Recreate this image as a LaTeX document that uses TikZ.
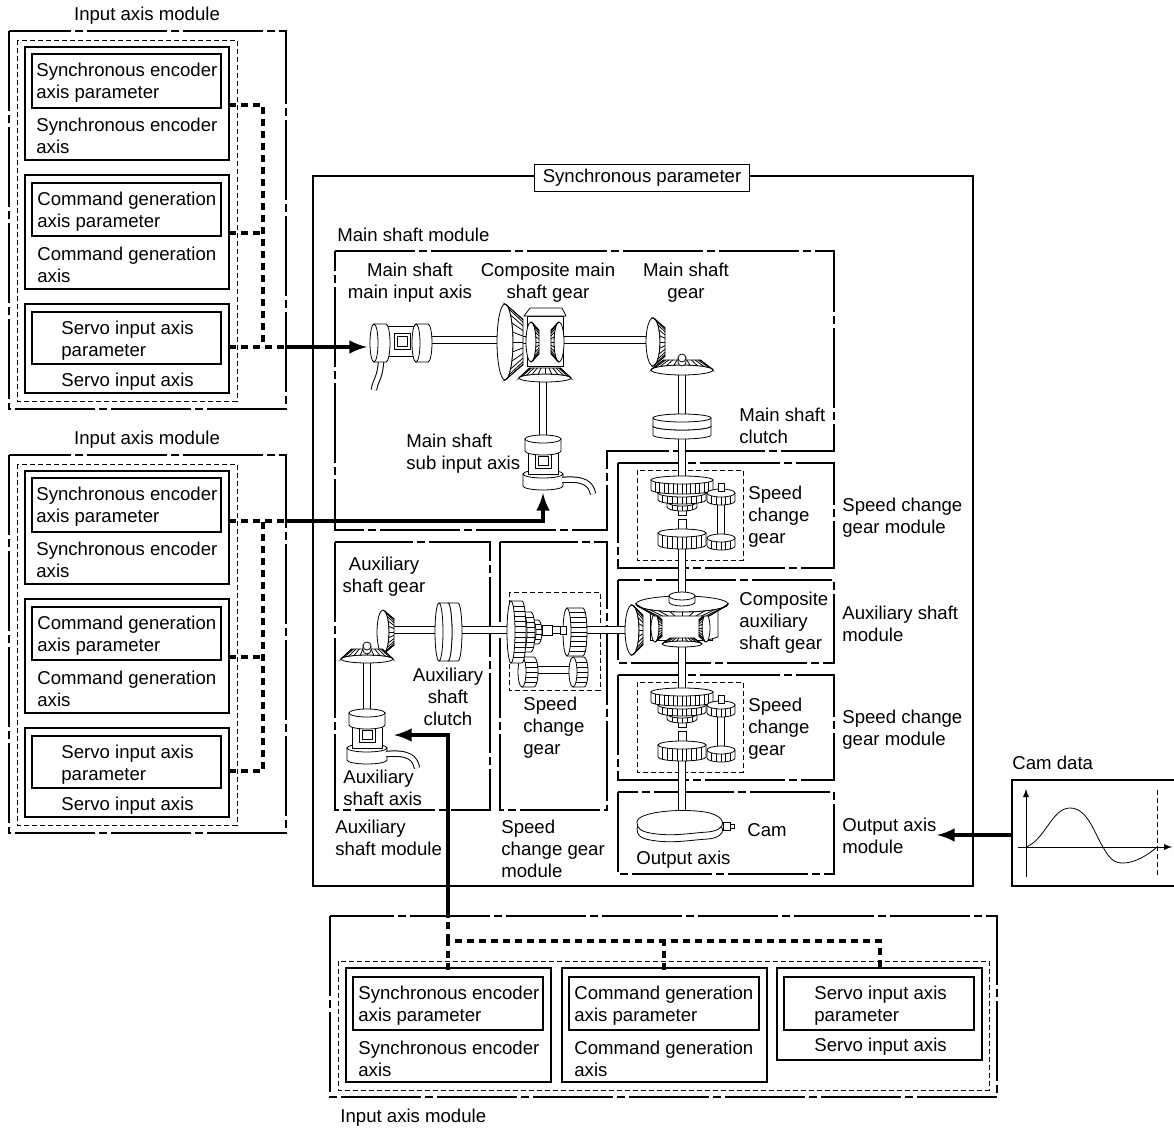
\documentclass[tikz,border=0pt]{standalone}
\usepackage{fontspec}
\setmainfont{Liberation Sans}
\begin{document}
\begin{tikzpicture}[x=0.5pt,y=-0.5pt,>=latex,
  every node/.style={font=\fontsize{9.3}{11}\selectfont,inner sep=0pt,yshift=-1pt},
  txt/.style={anchor=west,align=left},
  ctxt/.style={align=center},
  modline/.style={line width=0.65pt,dash pattern=on 40pt off 2pt on 4pt off 2pt},
  axbox/.style={line width=0.65pt},
  dashbox/.style={line width=0.4pt,dash pattern=on 2.5pt off 1.5pt},
  link/.style={line width=2pt,dash pattern=on 3.5pt off 2.5pt},
  feed/.style={line width=2pt,->},
  shaft/.style={line width=0.5pt,double=white,double distance=2.8pt},
  cable/.style={line width=0.5pt,double=white,double distance=2.2pt},
  pics/plate/.style args={#1/#2}{code={
    \draw[fill=white] (-#1,0) -- (-#1,#2) arc[start angle=180,end angle=0,x radius=#1,y radius=4] -- (#1,0) -- cycle;
    \draw[fill=white] (0,0) ellipse [x radius=#1,y radius=4];}},
  pics/spur/.style args={#1/#2/#3}{code={
    \draw[fill=white] (-#1,0) -- (-#1,#2) arc[start angle=180,end angle=0,x radius=#1,y radius=4] -- (#1,0) -- cycle;
    \draw[fill=white] (0,0) ellipse [x radius=#1,y radius=4];
    \foreach \t in {1,...,#3}
      \draw ({-#1+2*#1*\t/(#3+1)},{4*sqrt(1-(1-2*\t/(#3+1))^2)}) -- ++(0,#2);}},
  pics/bevel/.style args={#1/#2/#3}{code={
    \draw[fill=white] (0,0) ellipse [x radius=#2,y radius=#1];
    \draw[fill=white] (0,-#1) -- (#3,{-0.6*#1}) -- (#3,{0.6*#1}) -- (0,#1) arc[start angle=90,end angle=-90,x radius=#2,y radius=#1] -- cycle;
    \foreach \a in {-75,-60,...,75}
      \draw ({#2*cos(\a)},{#1*sin(\a)}) -- (#3,{0.6*#1*sin(\a)});}},
  pics/motorv/.style={code={
    \pic at (0,38) {plate=20/12};
    \draw[fill=white] (-15,14) rectangle (15,40);
    \draw (-8,19) rectangle (8,34) (-5,22) rectangle (5,31);
    \pic at (0,3) {plate=18/12};
    \draw[cable] (19,46) .. controls (42,44) and (48,50) .. (50,60);}}]
\useasboundingbox (0,0) rectangle (1174,1129);

% input axis modules on the left
\foreach \dy/\nm in {0/a,424/b}{
  \begin{scope}[shift={(0,\dy)}]
    \node (\nm-lbl) at (147,14) {Input axis module};
    \draw[modline] (9,31) rectangle (286,409);
    \draw[dashbox] (17,40) rectangle (237,401);
    \draw[axbox] (25,47) rectangle (229,160) (25,175) rectangle (229,289) (25,304) rectangle (229,393);
    \draw[axbox] (32,54) rectangle (221,108) (32,183) rectangle (221,236) (32,312) rectangle (221,364);
    \node[txt] (\nm-p1) at (36,81) {Synchronous encoder\\axis parameter};
    \node[txt] (\nm-x1) at (36,134) {Synchronous encoder\\axis};
    \node[txt] (\nm-p2) at (37,210) {Command generation\\axis parameter};
    \node[txt] (\nm-x2) at (37,263) {Command generation\\axis};
    \node[txt] (\nm-p3) at (61,339) {Servo input axis\\parameter};
    \node[txt] (\nm-x3) at (61,380) {Servo input axis};
    \coordinate (\nm-c2) at (229,231);
    \coordinate (\nm-c3) at (229,345);
  \end{scope}}
\coordinate (a-c1) at (229,103);
\coordinate (a-j) at (263,345);
\coordinate (a-k) at (287,345);
\coordinate (b-c1) at (229,519);
\coordinate (b-j) at (263,519);
\coordinate (b-k) at (287,519);

% synchronous parameter
\draw[axbox] (313,176) rectangle (973,886);
\node[draw,fill=white,inner xsep=4pt,inner ysep=2.5pt] (sp) at (642,176) {Synchronous parameter};

% module frames
\node[txt] (ms-lbl) at (337,233) {Main shaft module};
\draw[modline] (335,251) -- (834,251) -- (834,451) -- (607,451) -- (607,530) -- (335,530) -- cycle;
\draw[modline] (618,463) rectangle (834,568);
\draw[dashbox] (637,470) rectangle (743,560);
\draw[modline] (618,580) rectangle (834,663);
\draw[modline] (618,675) rectangle (834,780);
\draw[dashbox] (637,682) rectangle (743,772);
\draw[modline] (618,792) rectangle (834,874);
\draw[modline] (335,542) rectangle (490,810);
\draw[modline] (500,542) rectangle (607,810);
\draw[dashbox] (509,592) rectangle (600,690);

% shafts
\draw[shaft] (430,340) -- (650,340);
\draw[shaft] (543,370) -- (543,440);
\draw[shaft] (682,360) -- (682,480) (682,540) -- (682,600) (682,640) -- (682,690) (682,752) -- (682,818);
\draw[shaft] (390,630) -- (636,630);
\draw[shaft] (367,650) -- (367,712);

% main shaft main input axis
\draw[fill=white] (386,326) rectangle (418,356);
\draw (394,333) rectangle (410,349) (397,336) rectangle (407,346);
\pic[rotate=90] at (416,341) {plate=19/12};
\draw[cable] (381,358) .. controls (381,378) and (375,380) .. (374,390);
\pic[rotate=90] at (374,341) {plate=19/12};

% composite main shaft gear
\draw[fill=white] (527,316) rectangle (563,366);
\draw[fill=white] (524,316) -- (530,308) -- (562,308) -- (566,316) -- cycle;
\pic at (531,340) {bevel=20/5/8};
\pic[rotate=180] at (559,340) {bevel=20/5/8};
\pic[rotate=90] at (545,376) {bevel=26/4/10};
\pic at (505,340) {bevel=38/8/18};

% main shaft gear and clutch
\pic at (653,340) {bevel=24/7/12};
\pic[rotate=90] at (682,368) {bevel=31/5/10};
\pic at (682,356) {plate=4/4};
\pic at (682,424) {plate=29/9};
\pic at (682,416) {plate=29/8};

% sub input axis
\pic at (543,432) {motorv};

% speed change gears (vertical)
\foreach \dy in {0,212}{
  \begin{scope}[shift={(0,\dy)}]
    \draw[shaft] (721,500) -- (721,536);
    \draw[fill=white] (678,505) rectangle (686,515);
    \pic at (682,500) {spur=15/5/5};
    \pic at (682,491) {spur=24/7/9};
    \pic at (682,478) {spur=31/10/13};
    \pic at (721,491) {spur=14/8/5};
    \draw[fill=white] (718,483) rectangle (724,491);
    \pic at (721,536) {spur=14/8/5};
    \draw[fill=white] (678,519) rectangle (686,531);
    \pic at (682,531) {spur=24/12/9};
  \end{scope}}

% composite auxiliary shaft gear
\draw[fill=white] (650,610) rectangle (712,640);
\draw[fill=white] (708,613) -- (718,610) -- (718,637) -- (708,640) -- cycle;
\pic at (655,626) {bevel=14/4/7};
\pic[rotate=180] at (706,626) {bevel=14/4/7};
\pic[rotate=90] at (682,642) {bevel=20/3/6};
\pic[rotate=-90] at (682,602) {bevel=46/8/12};
\pic at (682,594) {plate=13/6};
\pic at (632,628) {bevel=25/7/11};

% speed change gear (horizontal)
\draw[shaft] (535,670) -- (573,670);
\pic[rotate=90] at (522,670) {spur=15/12/5};
\pic[rotate=90] at (573,670) {spur=15/11/5};
\draw[fill=white] (542,625) rectangle (552,635);
\pic[rotate=90] at (532,630) {spur=12/6/4};
\pic[rotate=90] at (523,630) {spur=20/8/7};
\pic[rotate=90] at (511,630) {spur=31/11/11};
\pic[rotate=90] at (567,630) {spur=24/16/9};
\draw[fill=white] (560,626) rectangle (566,634);

% auxiliary shaft gear, clutch, axis
\pic at (383,630) {bevel=22/6/11};
\pic[rotate=90] at (367,657) {bevel=26/4/10};
\pic at (367,644) {plate=4/4};
\pic[rotate=90] at (448,630) {plate=29/10};
\pic[rotate=90] at (439,630) {plate=29/9};
\pic at (367,706) {motorv};

% cam
\foreach \s in {7,0}
  \draw[fill=white,shift={(0,\s)}] (637,822) .. controls (637,812) and (680,808) .. (705,812) .. controls (728,816) and (728,830) .. (708,832) .. controls (690,833) and (672,837) .. (650,833) .. controls (640,831) and (637,828) .. cycle;
\draw[fill=white] (723,822) rectangle (730,830);
\draw (730,824) rectangle (734,828);

% texts in synchronous parameter
\node[ctxt] (ms-in) at (410,281) {Main shaft\\main input axis};
\node[ctxt] (cm-g) at (548,281) {Composite main\\shaft gear};
\node[ctxt] (ms-g) at (686,281) {Main shaft\\gear};
\node[txt] (ms-cl) at (739,424) {Main shaft\\clutch};
\node[txt] (ms-sub) at (406,452) {Main shaft\\sub input axis};
\node[txt] (sc1-t) at (748,515) {Speed\\change\\gear};
\node[txt] (sc1-m) at (842,516) {Speed change\\gear module};
\node[txt] (ca-t) at (739,621) {Composite\\auxiliary\\shaft gear};
\node[txt] (ax-m) at (842,622) {Auxiliary shaft\\module};
\node[txt] (sc2-t) at (748,727) {Speed\\change\\gear};
\node[txt] (sc2-m) at (842,728) {Speed change\\gear module};
\node[txt] (cam-t) at (747,828) {Cam};
\node[txt] (out-t) at (636,858) {Output axis};
\node[txt] (out-m) at (842,834) {Output axis\\module};
\node[ctxt] (ag-t) at (384,575) {Auxiliary\\shaft gear};
\node[ctxt] (acl-t) at (448,695) {Auxiliary\\shaft\\clutch};
\node[txt] (aax-t) at (343,786) {Auxiliary\\shaft axis};
\node[txt] (aux-m) at (335,836) {Auxiliary\\shaft module};
\node[txt] (sc3-t) at (523,726) {Speed\\change\\gear};
\node[txt] (sc3-m) at (501,847) {Speed\\change gear\\module};

% input axis module at the bottom
\node[txt] (c-lbl) at (340,1116) {Input axis module};
\draw[modline] (330,916) rectangle (997,1097);
\draw[dashbox] (338,961) rectangle (989,1090);
\draw[axbox] (346,968) rectangle (551,1082) (562,968) rectangle (767,1082) (777,968) rectangle (982,1060);
\draw[axbox] (353,977) rectangle (543,1030) (569,977) rectangle (759,1030) (784,977) rectangle (974,1030);
\node[txt] (c-p1) at (358,1004) {Synchronous encoder\\axis parameter};
\node[txt] (c-x1) at (358,1057) {Synchronous encoder\\axis};
\node[txt] (c-p2) at (574,1004) {Command generation\\axis parameter};
\node[txt] (c-x2) at (574,1057) {Command generation\\axis};
\node[txt] (c-p3) at (814,1004) {Servo input axis\\parameter};
\node[txt] (c-x3) at (814,1045) {Servo input axis};
\coordinate (c-b1) at (448,968);
\coordinate (c-b2) at (664,968);
\coordinate (c-b3) at (880,968);
\coordinate (c-j) at (448,939);
\coordinate (c-k) at (448,916);

% cam data
\node[txt] (camlbl) at (1012,761) {Cam data};
\draw[axbox] (1180,780) -- (1012,780) -- (1012,886) -- (1180,886);
\draw[->] (1026,877) -- (1026,789);
\draw[->] (1018,847) -- (1172,847);
\draw (1026,847) .. controls (1045,840) and (1052,808) .. (1070,808) .. controls (1088,808) and (1095,835) .. (1103,847) .. controls (1110,860) and (1115,863) .. (1123,863) .. controls (1135,863) and (1148,855) .. (1157,847);
\draw[dashbox] (1157,790) -- (1157,877);

% connector ends
\coordinate (mia) at (367,345);
\coordinate (sia) at (543,491);
\coordinate (asa) at (394,733);
\coordinate (camin) at (1012,833);
\coordinate (oam) at (937,833);

% connectors
\draw[link] (a-c1) -| (a-j);
\draw[link] (a-c2) -- (a-c2 -| a-j);
\draw[link] (a-c3) -- (a-k);
\draw[feed] (a-k) -- (mia);
\draw[link] (b-c3) -| (b-j);
\draw[link] (b-c2) -- (b-c2 -| b-j);
\draw[link] (b-c1) -- (b-k);
\draw[feed] (b-k) -| (sia);
\draw[link] (c-b1) -- (c-j) -| (c-b3);
\draw[link] (c-b2) -- (c-b2 |- c-j);
\draw[link] (c-j) -- (c-k);
\draw[feed] (c-k) |- (asa);
\draw[feed] (camin) -- (oam);
\end{tikzpicture}
\end{document}
